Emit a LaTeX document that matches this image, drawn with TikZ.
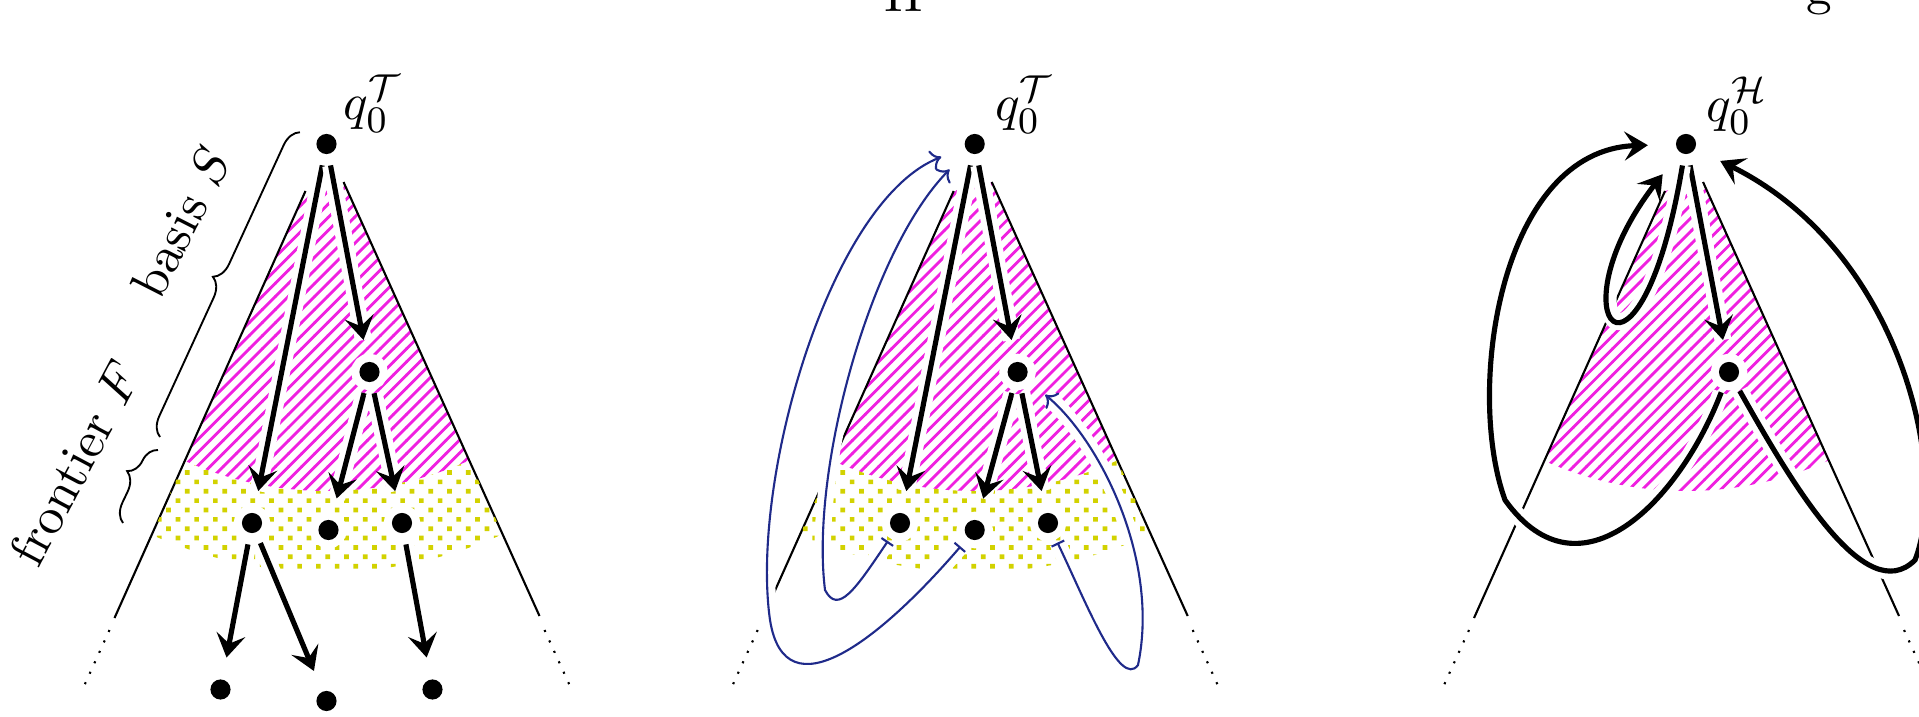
\documentclass[tikz,border=0pt,11pt]{standalone}
\usetikzlibrary{arrows.meta,patterns,decorations.pathreplacing}
\definecolor{Hatch}{HTML}{F020E0}
\definecolor{Front}{HTML}{D2D200}
\definecolor{Back}{HTML}{1F2A8A}
\pgfdeclarepatternformonly{basis lines}{\pgfqpoint{-1pt}{-1pt}}{\pgfqpoint{3.8pt}{3.8pt}}{\pgfqpoint{2.8pt}{2.8pt}}{%
  \pgfsetlinewidth{0.6pt}%
  \pgfpathmoveto{\pgfqpoint{0pt}{0pt}}%
  \pgfpathlineto{\pgfqpoint{2.9pt}{2.9pt}}%
  \pgfusepath{stroke}}
\pgfdeclarepatternformonly{frontier dots}{\pgfqpoint{-0.6pt}{-0.6pt}}{\pgfqpoint{2.7pt}{2.7pt}}{\pgfqpoint{4pt}{4pt}}{%
  \pgfpathrectangle{\pgfqpoint{-0.5pt}{-0.5pt}}{\pgfqpoint{1pt}{1pt}}%
  \pgfpathrectangle{\pgfqpoint{1.5pt}{1.5pt}}{\pgfqpoint{1pt}{1pt}}%
  \pgfusepath{fill}}
\begin{document}
\begin{tikzpicture}[x=0.0075cm,y=-0.0075cm,
  dot/.style={circle,fill,inner sep=0pt,minimum size=4.3pt,outer sep=2.5pt,preaction={draw=white,line width=3.5pt}},
  cone/.style={line width=0.45pt},
  tree/.style={line width=1.1pt,-{Stealth[length=5pt,width=6.2pt,inset=2pt]},shorten >=2.3pt,preaction={draw=white,line width=3.6pt,-}},
  back/.style={Back,line width=0.45pt,{Bar[width=3pt]}-{To[length=2.2pt,width=4.4pt]},shorten >=3pt,preaction={draw=white,line width=3.5pt,-}},
  loop/.style={tree,shorten >=3.5pt},
  basis/.style={pattern=basis lines,pattern color=Hatch},
  front/.style={pattern=frontier dots,pattern color=Front}]
\useasboundingbox (0,0) rectangle (1919,716);
\clip (0,0) rectangle (1919,716);

% titles cut off at the top
\node[anchor=base] (cut1) at (904,12) {H};
\node[anchor=base] (cut2) at (1819,5) {g};

% the three cones: basis region, frontier band, sides
\foreach \x in {326.5,974.7,1686}{
  \begin{scope}
    \clip (\x-21,191) -- (\x+17,182) -- (\x+213,616) -- (\x-212,618) -- cycle;
    \fill[basis] (\x,144) circle[radius=347];
  \end{scope}
  \draw[cone] (\x-21,191) -- (\x-212,618);
  \draw[cone] (\x+17,182) -- (\x+213,616);
  \draw[cone,dotted] (\x-217,630) -- (\x-242,685);
  \draw[cone,dotted] (\x+218,630) -- (\x+243,685);
}
\foreach \x in {326.5,974.7}{
  \begin{scope}
    \clip (\x,144) -- (\x+213,616) -- (\x-212,618) -- cycle;
    \fill[front,even odd rule] (\x,144) circle[radius=428] (\x,144) circle[radius=347];
  \end{scope}
}

% tree T
\node[dot] (r1) at (326.5,144) {};
\node[dot] (m1) at (369.5,372) {};
\node[dot] (f1a) at (252,523) {};
\node[dot] (f1b) at (328.5,530) {};
\node[dot] (f1c) at (402,523) {};
\node[dot] (l1a) at (220.5,689.5) {};
\node[dot] (l1b) at (326.5,701) {};
\node[dot] (l1c) at (432.5,689.5) {};
\node (q1) at (373,104) {$q_0^{\mathcal{T}}$};
\draw[tree] (r1) -- (f1a);
\draw[tree] (r1) -- (m1);
\draw[tree] (m1) -- (f1b);
\draw[tree] (m1) -- (f1c);
\draw[tree] (f1a) -- (l1a);
\draw[tree] (f1a) -- (l1b);
\draw[tree] (f1c) -- (l1c);
\draw[decorate,decoration={brace,amplitude=4pt}] (160,437) -- (300,132);
\draw[decorate,decoration={brace,amplitude=4pt,aspect=0.6}] (123,523) -- (158,450);
\node[rotate=63] (basis) at (181,222) {basis $S$};
\node[rotate=62] (frontier) at (75,463) {frontier $F$};

% tree with back edges
\node[dot] (r2) at (974.7,144) {};
\node[dot] (m2) at (1017.6,372) {};
\node[dot] (f2a) at (900,523) {};
\node[dot] (f2b) at (974.7,530) {};
\node[dot] (f2c) at (1048,523) {};
\node (q2) at (1024.5,105) {$q_0^{\mathcal{T}}$};
\draw[tree] (r2) -- (f2a);
\draw[tree] (r2) -- (m2);
\draw[tree] (m2) -- (f2b);
\draw[tree] (m2) -- (f2c);
\draw[back] (f2a) .. controls (855,590) and (838,615) .. (825,590) .. controls (810,470) and (870,250) .. (r2);
\draw[back] (f2b) .. controls (880,640) and (785,715) .. (770,620) .. controls (750,480) and (830,200) .. (r2);
\draw[back] (f2c) .. controls (1085,600) and (1120,690) .. (1138,665) .. controls (1160,560) and (1100,440) .. (m2);

% hypothesis H
\node[dot] (r3) at (1686,144) {};
\node[dot] (m3) at (1729,372) {};
\node (q3) at (1737,106) {$q_0^{\mathcal{H}}$};
\draw[tree] (r3) -- (m3);
\draw[loop] (r3) .. controls (1640,420) and (1550,320) .. (r3);
\draw[loop] (m3) .. controls (1680,500) and (1580,605) .. (1505,500) .. controls (1465,390) and (1500,150) .. (r3);
\draw[loop] (m3) .. controls (1790,480) and (1865,610) .. (1915,560) .. controls (1950,470) and (1900,250) .. (r3);
\end{tikzpicture}
\end{document}
